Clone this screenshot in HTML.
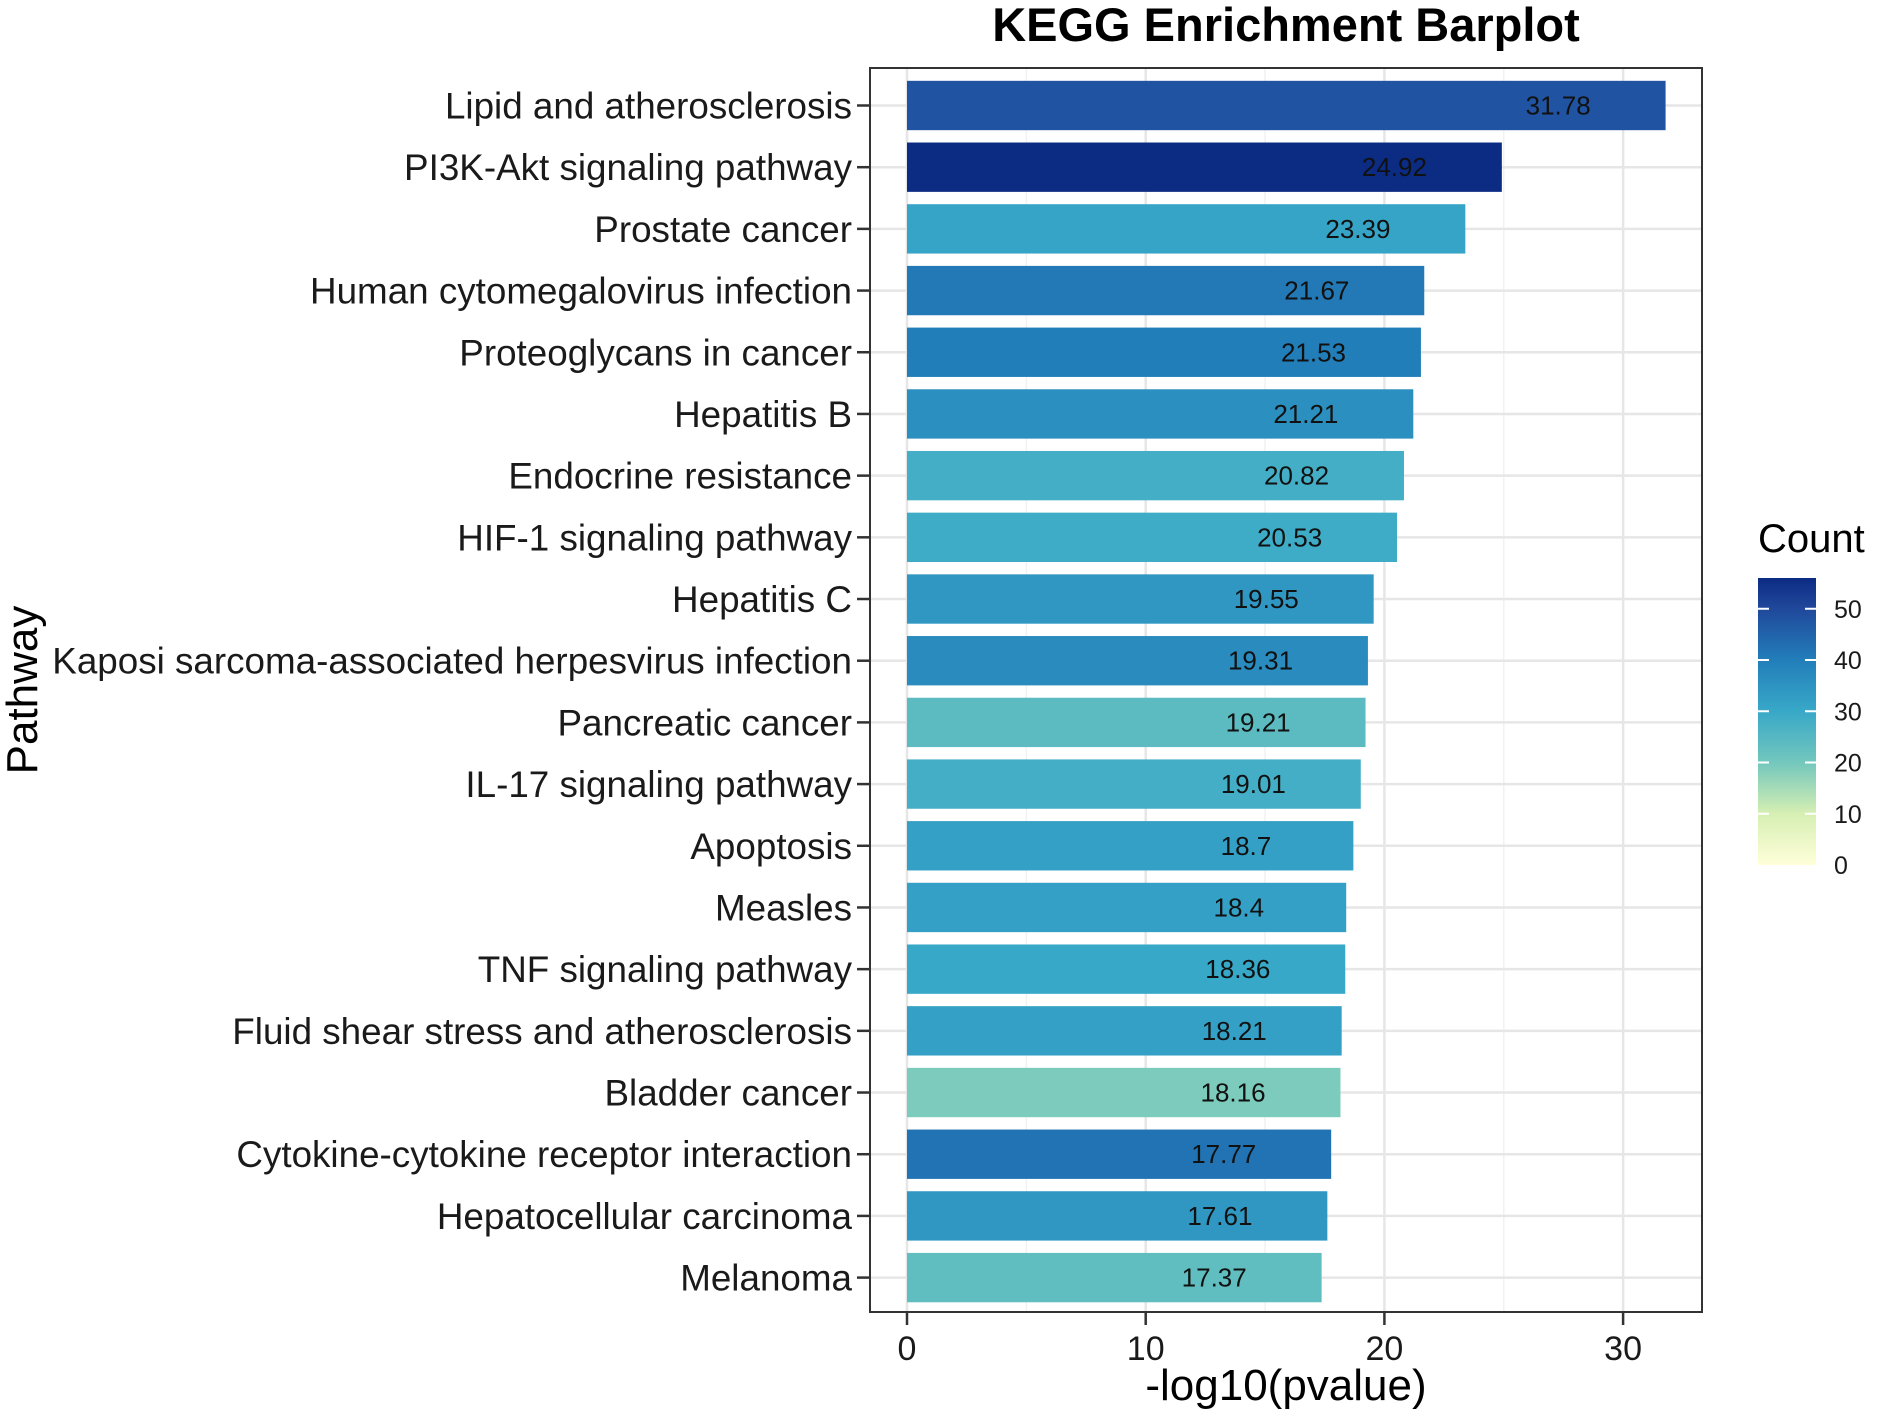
<!DOCTYPE html>
<html><head><meta charset="utf-8"><style>
html,body{margin:0;padding:0;background:#fff;}
svg{display:block;font-family:"Liberation Sans",Arial,sans-serif;}
</style></head><body>
<svg id="chart" width="1878" height="1417" viewBox="0 0 1878 1417" xmlns="http://www.w3.org/2000/svg"></svg>
<script>
const categories = ["Lipid and atherosclerosis","PI3K-Akt signaling pathway","Prostate cancer","Human cytomegalovirus infection","Proteoglycans in cancer","Hepatitis B","Endocrine resistance","HIF-1 signaling pathway","Hepatitis C","Kaposi sarcoma-associated herpesvirus infection","Pancreatic cancer","IL-17 signaling pathway","Apoptosis","Measles","TNF signaling pathway","Fluid shear stress and atherosclerosis","Bladder cancer","Cytokine-cytokine receptor interaction","Hepatocellular carcinoma","Melanoma"];
const values = [31.78,24.92,23.39,21.67,21.53,21.21,20.82,20.53,19.55,19.31,19.21,19.01,18.7,18.4,18.36,18.21,18.16,17.77,17.61,17.37];
const valueLabels = ["31.78","24.92","23.39","21.67","21.53","21.21","20.82","20.53","19.55","19.31","19.21","19.01","18.7","18.4","18.36","18.21","18.16","17.77","17.61","17.37"];
const counts = [48,56,31,41,40,36,28,29,34,37,24,28,32,32,30,32,19,42,34,23];
const xTicks = [0,10,20,30];
const xMinor = [5,15,25];
const countTicks = [0,10,20,30,40,50];

const NS="http://www.w3.org/2000/svg";
const svg=document.getElementById('chart');
function mk(tag,attrs,parent){const e=document.createElementNS(NS,tag);for(const k in attrs)e.setAttribute(k,attrs[k]);(parent||svg).appendChild(e);return e;}

const P={l:870,r:1702,t:68,b:1312};
const xScale=v=>907+v*23.87;
const y0=105.5, step=(1277.6-105.5)/19;
const yScale=i=>y0+i*step;
const barH=step*0.8;

const stops=[[0,[255,255,217]],[10,[214,239,179]],[20,[115,199,189]],[30,[56,168,200]],[40,[34,126,185]],[50,[32,72,155]],[56,[12,44,132]]];
function color(c){for(let i=0;i<stops.length-1;i++){const[a,ca]=stops[i],[b,cb]=stops[i+1];if(c<=b){const t=(c-a)/(b-a);return `rgb(${ca.map((v,j)=>Math.round(v+(cb[j]-v)*t)).join(',')})`;}}return 'rgb(12,44,132)';}

const panel=mk('rect',{x:P.l,y:P.t,width:P.r-P.l,height:P.b-P.t,fill:'#fff'});

xMinor.forEach(v=>{const g=mk('line',{x1:xScale(v),x2:xScale(v),y1:P.t,y2:P.b,stroke:'#f2f2f2','stroke-width':1.5});});
xTicks.forEach(v=>{const g=mk('line',{x1:xScale(v),x2:xScale(v),y1:P.t,y2:P.b,stroke:'#e6e6e6','stroke-width':2.5});});
categories.forEach((c,i)=>{const g=mk('line',{x1:P.l,x2:P.r,y1:yScale(i),y2:yScale(i),stroke:'#e6e6e6','stroke-width':2.5});});

categories.forEach((c,i)=>{
  const y=yScale(i);
  const b=mk('rect',{x:xScale(0),y:y-barH/2,width:xScale(values[i])-xScale(0),height:barH,fill:color(counts[i])});
  
  const vt=mk('text',{x:xScale(values[i]-4.5),y:y+9,'font-size':26,'text-anchor':'middle',fill:'#111'});vt.textContent=valueLabels[i];
  
  const tk=mk('line',{x1:P.l-13,x2:P.l,y1:y,y2:y,stroke:'#333','stroke-width':2.5});
  
  const lt=mk('text',{x:P.l-18,y:y+13,'font-size':36.8,'text-anchor':'end',fill:'#1a1a1a'});lt.textContent=c;
  
});
const border=mk('rect',{x:P.l,y:P.t,width:P.r-P.l,height:P.b-P.t,fill:'none',stroke:'#333','stroke-width':2});


xTicks.forEach(v=>{
  const tk=mk('line',{x1:xScale(v),x2:xScale(v),y1:P.b,y2:P.b+13,stroke:'#333','stroke-width':2.5});
  
  const t=mk('text',{x:xScale(v),y:P.b+48,'font-size':34,'text-anchor':'middle',fill:'#1a1a1a'});t.textContent=v;
  
});
const xt=mk('text',{x:1286,y:1400,'font-size':44,'text-anchor':'middle',fill:'#000'});xt.textContent='-log10(pvalue)';

const yt=mk('text',{x:0,y:0,'font-size':44,'text-anchor':'middle',fill:'#000',transform:'translate(37,690) rotate(-90)'});yt.textContent='Pathway';

const tt=mk('text',{x:1286,y:41,'font-size':47,'font-weight':'bold','text-anchor':'middle',fill:'#000'});tt.textContent='KEGG Enrichment Barplot';


const defs=mk('defs',{});
const lg=mk('linearGradient',{id:'cg',x1:0,y1:1,x2:0,y2:0},defs);
const cMax=56;
stops.forEach(s=>mk('stop',{offset:s[0]/cMax,'stop-color':color(s[0])},lg));
const cb={x:1758,w:58,top:578,bot:865};
const cy=v=>cb.bot-(v/cMax)*(cb.bot-cb.top);
const lt=mk('text',{x:1758,y:552,'font-size':40,fill:'#000'});lt.textContent='Count';

const bar=mk('rect',{x:cb.x,y:cb.top,width:cb.w,height:cb.bot-cb.top,fill:'url(#cg)'});

countTicks.forEach(v=>{
  const y=cy(v);
  if(v>0){mk('line',{x1:cb.x,x2:cb.x+11,y1:y,y2:y,stroke:'#fff','stroke-width':2});mk('line',{x1:cb.x+cb.w-11,x2:cb.x+cb.w,y1:y,y2:y,stroke:'#fff','stroke-width':2});}
  const t=mk('text',{x:1834,y:y+9,'font-size':25,fill:'#1a1a1a'});t.textContent=v;
  
});
</script>
</body></html>
